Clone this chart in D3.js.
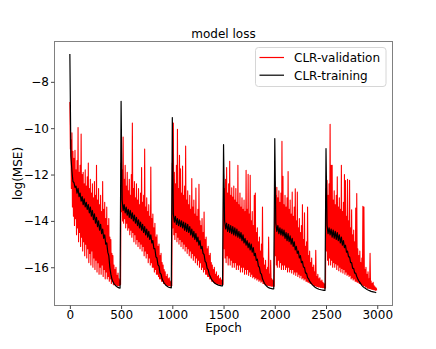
<!DOCTYPE html>
<html>
<head>
<meta charset="utf-8">
<script src="https://cdn.jsdelivr.net/npm/d3@7"></script>
<style>
  html, body { margin: 0; padding: 0; background: #fff; }
  svg { display: block; font-family: "DejaVu Sans", sans-serif; }
</style>
</head>
<body>
<svg id="chart" width="436" height="349"></svg>
<script>
// ---------------- data ----------------
const chartTitle = "model loss";
const xLabel = "Epoch";
const yLabel = "log(MSE)";
const seriesNames = ["CLR-validation", "CLR-training"];
const seriesColors = ["#ff0000", "#000000"];
const xTicks = [0, 500, 1000, 1500, 2000, 2500, 3000];
const yTicks = [-8, -10, -12, -14, -16];

// training loss, one value every 10 epochs (epochs 0..2990)
const trainEpochStep = 10;
const trainLoss = [
  -6.8, -11.2, -11.85, -12.3, -12.35, -12.55, -12.5, -12.8, -12.6, -12.95,
  -12.8, -13.15, -12.95, -13.3, -13.05, -13.4, -13.2, -13.5, -13.3, -13.65,
  -13.4, -13.8, -13.55, -13.95, -13.7, -14.1, -13.85, -14.25, -14.0, -14.4,
  -14.15, -14.55, -14.35, -14.75, -14.6, -15.0, -14.95, -15.35, -15.5, -16.0,
  -16.3, -16.5, -16.62, -16.7, -16.76, -16.8, -16.84, -16.87, -16.89, -16.9,

  -8.84, -13.1, -13.55, -13.3, -13.65, -13.4, -13.75, -13.5, -13.85, -13.55,
  -13.9, -13.65, -14.0, -13.75, -14.1, -13.85, -14.2, -13.95, -14.3, -14.05,
  -14.4, -14.15, -14.5, -14.25, -14.6, -14.35, -14.7, -14.45, -14.8, -14.6,
  -14.95, -14.85, -15.2, -15.2, -15.55, -15.6, -15.9, -15.95, -16.25, -16.3,
  -16.5, -16.6, -16.68, -16.74, -16.79, -16.82, -16.85, -16.87, -16.88, -16.89,

  -9.54, -13.7, -14.05, -13.8, -14.15, -13.9, -14.2, -13.95, -14.25, -14.0,
  -14.3, -14.05, -14.4, -14.1, -14.45, -14.15, -14.5, -14.25, -14.6, -14.35,
  -14.7, -14.45, -14.8, -14.55, -14.9, -14.7, -15.05, -14.85, -15.2, -15.1,
  -15.4, -15.45, -15.75, -15.8, -16.05, -16.1, -16.3, -16.4, -16.5, -16.57,
  -16.62, -16.67, -16.7, -16.73, -16.75, -16.77, -16.78, -16.79, -16.8, -16.8,

  -10.71, -14.0, -14.35, -14.1, -14.45, -14.15, -14.5, -14.2, -14.55, -14.25,
  -14.6, -14.3, -14.65, -14.35, -14.7, -14.45, -14.75, -14.5, -14.85, -14.6,
  -14.95, -14.75, -15.05, -14.85, -15.15, -14.95, -15.25, -15.0, -15.35, -15.15,
  -15.5, -15.4, -15.7, -15.65, -15.95, -16.0, -16.25, -16.3, -16.5, -16.6,
  -16.7, -16.76, -16.81, -16.85, -16.88, -16.9, -16.91, -16.92, -16.93, -16.93,

  -10.45, -14.1, -14.45, -14.2, -14.55, -14.3, -14.6, -14.35, -14.65, -14.4,
  -14.75, -14.5, -14.85, -14.55, -14.9, -14.65, -15.0, -14.75, -15.1, -14.9,
  -15.25, -15.1, -15.4, -15.3, -15.6, -15.5, -15.8, -15.75, -16.0, -16.0,
  -16.25, -16.25, -16.45, -16.5, -16.6, -16.66, -16.72, -16.77, -16.81, -16.85,
  -16.88, -16.91, -16.93, -16.95, -16.96, -16.97, -16.98, -16.99, -17.0, -17.0,

  -10.88, -14.2, -14.55, -14.3, -14.6, -14.35, -14.7, -14.4, -14.75, -14.45,
  -14.8, -14.5, -14.85, -14.6, -14.95, -14.7, -15.05, -14.85, -15.15, -15.05,
  -15.35, -15.3, -15.55, -15.55, -15.8, -15.8, -16.05, -16.05, -16.25, -16.25,
  -16.4, -16.5, -16.58, -16.65, -16.72, -16.78, -16.83, -16.87, -16.9, -16.93,
  -16.96, -16.98, -17.0, -17.02, -17.04, -17.05, -17.06, -17.07, -17.08, -17.1
];

// validation loss, one value every 5 epochs (epochs 0..2995)
const valEpochStep = 5;
const valLoss = [
  -8.87, -10.9, -10.5, -12.6, -10.2, -13.4, -11.0, -13.8, -11.3, -14.2,
  -10.95, -13.9, -11.8, -14.6, -11.4, -14.3, -9.97, -14.9, -11.9, -14.5,
  -11.6, -15.1, -10.25, -14.7, -12.0, -15.3, -11.9, -14.9, -12.4, -15.5,
  -11.8, -15.0, -12.5, -15.6, -12.1, -15.2, -11.5, -15.8, -12.6, -15.4,
  -12.2, -15.9, -12.8, -15.3, -12.4, -16.0, -13.0, -15.6, -12.3, -16.1,
  -12.9, -15.7, -11.6, -16.2, -13.1, -15.8, -12.6, -16.3, -13.3, -16.0,
  -12.9, -16.3, -13.6, -15.9, -12.3, -16.4, -13.5, -16.1, -13.2, -16.5,
  -13.9, -16.2, -13.4, -16.5, -14.2, -16.4, -13.9, -16.6, -14.7, -16.5,
  -14.8, -16.7, -15.4, -16.6, -15.5, -16.75, -15.9, -16.7, -16.1, -16.8,
  -16.0, -16.75, -16.35, -16.8, -16.25, -16.8, -16.5, -16.78, -16.55, -16.75,

  -11.5, -13.6, -11.8, -14.0, -10.38, -14.1, -12.2, -13.9, -11.6, -14.3,
  -12.5, -14.1, -11.9, -14.4, -12.7, -14.3, -12.2, -14.6, -12.9, -14.4,
  -12.0, -14.7, -9.78, -14.5, -12.6, -14.9, -12.3, -14.6, -13.0, -15.0,
  -12.4, -14.8, -13.1, -15.1, -12.6, -14.9, -13.3, -15.2, -12.8, -15.0,
  -11.7, -15.3, -13.2, -15.1, -12.9, -15.5, -10.9, -15.3, -13.4, -15.6,
  -13.0, -15.4, -13.6, -15.8, -13.3, -15.6, -13.8, -15.9, -11.68, -15.8,
  -13.9, -16.0, -13.7, -16.0, -14.3, -16.2, -14.1, -16.1, -14.7, -16.3,
  -14.6, -16.3, -15.1, -16.4, -15.0, -16.5, -15.5, -16.5, -15.4, -16.6,
  -15.8, -16.6, -15.9, -16.7, -16.1, -16.7, -16.2, -16.75, -16.4, -16.75,
  -16.3, -16.8, -16.5, -16.8, -16.45, -16.8, -16.6, -16.82, -16.65, -16.8,

  -11.5, -14.3, -9.78, -14.6, -11.9, -14.8, -12.4, -14.5, -11.6, -14.9,
  -10.05, -14.7, -12.6, -15.0, -11.17, -14.8, -11.75, -15.1, -12.8, -14.9,
  -11.63, -15.2, -12.9, -15.0, -12.5, -15.3, -10.77, -15.1, -13.1, -15.4,
  -12.7, -15.2, -13.3, -15.5, -12.9, -15.3, -13.5, -15.6, -12.17, -15.4,
  -13.4, -15.7, -13.1, -15.5, -13.7, -15.8, -12.58, -15.6, -13.8, -15.9,
  -13.5, -15.7, -12.42, -16.0, -14.0, -15.8, -14.2, -16.1, -13.9, -16.0,
  -14.5, -16.2, -13.62, -16.1, -14.8, -16.3, -14.7, -16.3, -15.2, -16.4,
  -15.1, -16.4, -15.5, -16.5, -15.4, -16.5, -15.8, -16.6, -15.9, -16.6,
  -16.1, -16.65, -16.0, -16.7, -16.3, -16.7, -16.2, -16.72, -16.4, -16.72,
  -16.35, -16.73, -16.5, -16.74, -16.45, -16.74, -16.55, -16.75, -16.6, -16.74,

  -12.0, -15.2, -12.6, -15.6, -12.2, -15.8, -11.7, -15.5, -12.8, -15.9,
  -12.4, -15.6, -11.43, -15.9, -12.9, -15.7, -12.57, -16.0, -12.97, -15.8,
  -12.5, -16.0, -13.1, -15.8, -12.6, -16.1, -13.2, -15.9, -11.6, -16.1,
  -13.3, -15.9, -12.8, -16.2, -13.4, -16.0, -13.0, -16.2, -13.5, -16.0,
  -13.1, -16.3, -13.6, -16.1, -11.82, -16.3, -13.5, -16.1, -11.99, -16.35,
  -13.7, -16.2, -12.03, -16.4, -14.0, -16.3, -13.6, -16.45, -14.2, -16.4,
  -12.9, -16.5, -12.8, -16.45, -14.5, -16.55, -14.3, -16.5, -14.9, -16.6,
  -14.7, -16.55, -15.3, -16.65, -15.0, -16.6, -13.4, -16.7, -15.6, -16.7,
  -15.9, -16.75, -15.7, -16.75, -16.1, -16.78, -16.0, -16.78, -14.7, -16.8,
  -16.3, -16.8, -15.7, -16.82, -16.5, -16.82, -16.55, -16.83, -16.6, -16.82,

  -12.3, -15.5, -12.9, -15.9, -12.55, -16.0, -13.0, -15.7, -12.7, -16.0,
  -13.2, -15.8, -12.8, -16.1, -10.57, -15.9, -12.08, -16.1, -13.3, -15.9,
  -12.9, -16.1, -13.4, -16.0, -13.0, -16.2, -11.87, -16.0, -13.5, -16.2,
  -13.1, -16.1, -13.7, -16.25, -12.76, -16.1, -13.8, -16.3, -13.4, -16.2,
  -12.61, -16.35, -14.0, -16.2, -12.76, -16.4, -14.3, -16.3, -13.9, -16.45,
  -14.5, -16.35, -14.2, -16.5, -13.3, -16.45, -14.8, -16.55, -13.65, -16.5,
  -15.1, -16.6, -14.9, -16.6, -13.4, -16.65, -15.5, -16.65, -15.3, -16.7,
  -15.8, -16.7, -15.6, -16.75, -16.0, -16.75, -15.9, -16.8, -16.2, -16.8,
  -15.27, -16.82, -16.4, -16.83, -16.3, -16.85, -16.5, -16.85, -16.45, -16.87,
  -16.6, -16.87, -16.55, -16.88, -16.65, -16.88, -16.7, -16.9, -16.72, -16.9,

  -12.6, -15.3, -12.25, -15.7, -12.9, -15.9, -12.4, -15.6, -9.83, -15.9,
  -11.6, -15.7, -11.6, -16.0, -13.1, -15.8, -12.7, -16.0, -13.3, -15.85,
  -12.9, -16.1, -12.1, -15.9, -13.4, -16.15, -13.0, -16.0, -13.5, -16.2,
  -11.6, -16.05, -13.6, -16.25, -13.2, -16.1, -12.0, -16.3, -12.26, -16.2,
  -13.8, -16.35, -12.2, -16.3, -14.0, -16.4, -12.25, -16.35, -14.3, -16.5,
  -13.52, -16.45, -14.6, -16.55, -14.4, -16.5, -14.9, -16.6, -13.45, -16.6,
  -12.82, -16.65, -15.2, -16.65, -15.5, -16.7, -15.3, -16.7, -15.8, -16.75,
  -15.6, -16.75, -13.37, -16.8, -13.4, -16.8, -16.1, -16.85, -16.0, -16.85,
  -16.3, -16.9, -16.2, -16.9, -16.5, -16.92, -15.4, -16.93, -16.6, -16.95,
  -16.7, -16.96, -16.65, -16.97, -16.8, -16.98, -16.85, -17.0, -16.9, -17.0
];

// ---------------- layout ----------------
const W = 436, H = 349;
const plot = { left: 54.5, right: 392.5, top: 41.5, bottom: 305.5 };
const FONT = 12;

const svg = d3.select("#chart");

const x = d3.scaleLinear().domain([-149.95, 3148.95]).range([plot.left, plot.right]);
const y = d3.scaleLinear().domain([-17.65, -6.26]).range([plot.bottom, plot.top]);

const valData = valLoss.map((v, i) => ({ e: i * valEpochStep, v }));
const trainData = trainLoss.map((v, i) => ({ e: i * trainEpochStep, v }));

svg.append("defs").append("clipPath").attr("id", "clip")
  .append("rect")
  .attr("x", plot.left).attr("y", plot.top)
  .attr("width", plot.right - plot.left).attr("height", plot.bottom - plot.top);

const line = d3.line().x(d => x(d.e)).y(d => y(d.v));

const g = svg.append("g").attr("clip-path", "url(#clip)");
g.append("path").datum(valData)
  .attr("d", line)
  .attr("fill", "none")
  .attr("stroke", seriesColors[0])
  .attr("stroke-width", 1.1)
  .attr("stroke-linejoin", "round");
g.append("path").datum(trainData)
  .attr("d", line)
  .attr("fill", "none")
  .attr("stroke", seriesColors[1])
  .attr("stroke-width", 1.2)
  .attr("stroke-linejoin", "round");

// frame
svg.append("rect")
  .attr("x", plot.left).attr("y", plot.top)
  .attr("width", plot.right - plot.left).attr("height", plot.bottom - plot.top)
  .attr("fill", "none").attr("stroke", "#808080").attr("stroke-width", 1);

// x axis
const xAxis = d3.axisBottom(x).tickValues(xTicks).tickSize(3.5).tickPadding(1)
  .tickFormat(d3.format("d"));
const xg = svg.append("g").attr("transform", `translate(0,${plot.bottom})`).call(xAxis);
xg.select(".domain").remove();
xg.selectAll("line").attr("stroke", "#444");
xg.selectAll("text").attr("font-size", FONT).attr("font-family", "DejaVu Sans").attr("fill", "#000");

// y axis
const yAxis = d3.axisLeft(y).tickValues(yTicks).tickSize(3.5).tickPadding(2)
  .tickFormat(d => (d < 0 ? "\u2212" : "") + Math.abs(d));
const yg = svg.append("g").attr("transform", `translate(${plot.left},0)`).call(yAxis);
yg.select(".domain").remove();
yg.selectAll("line").attr("stroke", "#444");
yg.selectAll("text").attr("font-size", FONT).attr("font-family", "DejaVu Sans").attr("fill", "#000");

// title & labels
svg.append("text").attr("x", (plot.left + plot.right) / 2).attr("y", 38)
  .attr("text-anchor", "middle").attr("font-size", FONT).text(chartTitle);
svg.append("text").attr("x", (plot.left + plot.right) / 2).attr("y", 331.5)
  .attr("text-anchor", "middle").attr("font-size", FONT).text(xLabel);
svg.append("text")
  .attr("transform", `translate(22,${(plot.top + plot.bottom) / 2}) rotate(-90)`)
  .attr("text-anchor", "middle").attr("font-size", FONT).text(yLabel);

// legend
const lg = svg.append("g");
lg.append("rect").attr("x", 255.5).attr("y", 47.5).attr("width", 130.5).attr("height", 39)
  .attr("rx", 3).attr("fill", "#fff").attr("fill-opacity", 0.8)
  .attr("stroke", "#d6d6d6").attr("stroke-width", 1);
seriesNames.forEach((name, i) => {
  const yy = 57.5 + i * 17.7;
  lg.append("line").attr("x1", 259.5).attr("x2", 284).attr("y1", yy).attr("y2", yy)
    .attr("stroke", seriesColors[i]).attr("stroke-width", 1.2);
  lg.append("text").attr("x", 294).attr("y", yy + 4.4).attr("font-size", FONT).text(name);
});
</script>
</body>
</html>
